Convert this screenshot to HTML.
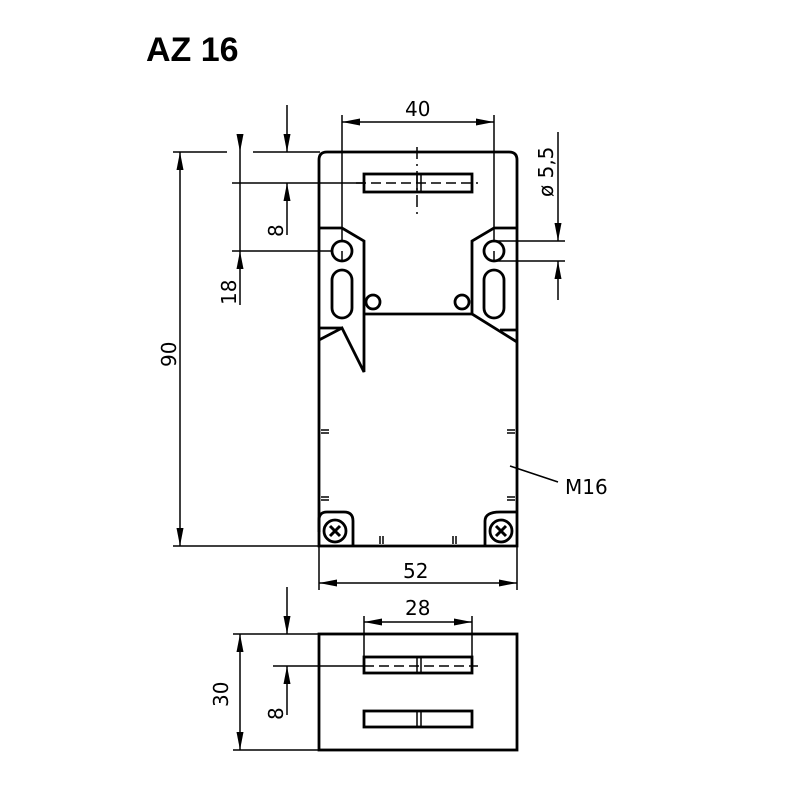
<!DOCTYPE html>
<html><head><style>body{margin:0;background:#fff}svg{display:block}</style></head><body>
<svg width="800" height="800" viewBox="0 0 800 800" xmlns="http://www.w3.org/2000/svg">
<defs>
<marker id="a" viewBox="0 0 18 7" refX="18" refY="3.5" markerWidth="18" markerHeight="7" markerUnits="userSpaceOnUse" orient="auto-start-reverse"><path d="M0,0 L18,3.5 L0,7 Z" fill="#000"/></marker>
</defs>
<text x="146" y="61" font-family="Liberation Sans,sans-serif" font-weight="bold" font-size="34">AZ 16</text>
<g fill="none" stroke="#000" stroke-width="1.5">
<line x1="173" y1="152" x2="227" y2="152"/><line x1="253" y1="152" x2="320" y2="152"/>
<line x1="173" y1="546" x2="319" y2="546"/>
<line x1="180" y1="152" x2="180" y2="546" marker-start="url(#a)" marker-end="url(#a)"/>
<line x1="240" y1="140" x2="240" y2="152" marker-end="url(#a)"/>
<line x1="240" y1="152" x2="240" y2="251"/>
<line x1="240" y1="305" x2="240" y2="251" marker-end="url(#a)"/>
<line x1="232" y1="183" x2="364" y2="183"/>
<line x1="232" y1="251" x2="332" y2="251"/>
<line x1="287" y1="105" x2="287" y2="152" marker-end="url(#a)"/>
<line x1="287" y1="235" x2="287" y2="183" marker-end="url(#a)"/>
<line x1="342" y1="115" x2="342" y2="240"/><line x1="494" y1="115" x2="494" y2="240"/>
<line x1="342" y1="122" x2="494" y2="122" marker-start="url(#a)" marker-end="url(#a)"/>
<line x1="558" y1="132" x2="558" y2="241" marker-end="url(#a)"/>
<line x1="558" y1="300" x2="558" y2="261" marker-end="url(#a)"/>
<line x1="494" y1="241" x2="565" y2="241"/><line x1="494" y1="261" x2="565" y2="261"/>
<line x1="319" y1="546" x2="319" y2="590"/><line x1="517" y1="546" x2="517" y2="590"/>
<line x1="319" y1="583" x2="517" y2="583" marker-start="url(#a)" marker-end="url(#a)"/>
<line x1="510" y1="466" x2="558" y2="482"/>
<line x1="364" y1="616" x2="364" y2="672"/><line x1="472" y1="616" x2="472" y2="672"/>
<line x1="364" y1="622" x2="472" y2="622" marker-start="url(#a)" marker-end="url(#a)"/>
<line x1="233" y1="634" x2="319" y2="634"/><line x1="233" y1="750" x2="319" y2="750"/>
<line x1="240" y1="634" x2="240" y2="750" marker-start="url(#a)" marker-end="url(#a)"/>
<line x1="287" y1="587" x2="287" y2="634" marker-end="url(#a)"/>
<line x1="287" y1="715" x2="287" y2="666" marker-end="url(#a)"/>
<line x1="273" y1="666" x2="364" y2="666"/>
</g>
<g fill="none" stroke="#000" stroke-width="2.8">
<path d="M319,546 L319,160 Q319,152 327,152 L509,152 Q517,152 517,160 L517,546 Z"/>
<path d="M319,228 L342,228 L364,241 L364,372 L342,328 L319,340"/>
<line x1="319" y1="328" x2="342" y2="328"/>
<path d="M517,228 L494,228 L472,241 L472,314 L517,342"/>
<line x1="364" y1="314" x2="472" y2="314"/>
<line x1="500" y1="330" x2="517" y2="330"/>
<circle cx="342" cy="251" r="10"/><circle cx="494" cy="251" r="10"/>
<rect x="332" y="270" width="20" height="48" rx="10"/>
<rect x="484" y="270" width="20" height="48" rx="10"/>
<circle cx="373" cy="302" r="7"/><circle cx="462" cy="302" r="7"/>
<rect x="364" y="174" width="108" height="18"/>
<path d="M319,532 L319,520 Q319,512 327,512 L344,512 Q353,512 353,521 L353,546"/>
<path d="M517,512 L500,512 Q485,512 485,521 L485,546"/>
<circle cx="335" cy="531" r="11"/><circle cx="501" cy="531" r="11"/>
<rect x="319" y="634" width="198" height="116"/>
<rect x="364" y="657" width="108" height="16"/>
<rect x="364" y="711" width="108" height="16"/>
</g>
<g stroke="#000" stroke-width="1.5" fill="none">
<line x1="417" y1="174" x2="417" y2="192"/><line x1="421" y1="174" x2="421" y2="192"/>
<line x1="417" y1="657" x2="417" y2="673"/><line x1="421" y1="657" x2="421" y2="673"/>
<line x1="417" y1="711" x2="417" y2="727"/><line x1="421" y1="711" x2="421" y2="727"/>
<line x1="356" y1="183" x2="478" y2="183" stroke-dasharray="10,5"/>
<line x1="364" y1="666" x2="478" y2="666" stroke-dasharray="10,5"/>
<line x1="417" y1="147" x2="417" y2="215" stroke-dasharray="12,5,2,5"/>
<line x1="342" y1="251" x2="342" y2="262"/><line x1="494" y1="251" x2="494" y2="262"/>
<path d="M321,430h8M321,433h8M321,497h8M321,500h8M507,430h8M507,433h8M507,497h8M507,500h8M380,536v8M383,536v8M453,536v8M456,536v8"/>
<path d="M330,526l10,10M340,526l-10,10M496,526l10,10M506,526l-10,10" stroke-width="3"/>
</g>
<g font-family="DejaVu Sans,Liberation Sans,sans-serif" font-size="20" fill="#000">
<text x="405" y="116">40</text>
<text x="403" y="578">52</text>
<text x="405" y="615">28</text>
<text x="565" y="494">M16</text>
<text transform="translate(176,367) rotate(-90)">90</text>
<text transform="translate(236,305) rotate(-90)">18</text>
<text transform="translate(283,237) rotate(-90)">8</text>
<text transform="translate(553,197) rotate(-90)">ø 5,5</text>
<text transform="translate(228,707) rotate(-90)">30</text>
<text transform="translate(283,720) rotate(-90)">8</text>
</g>
</svg>
</body></html>
